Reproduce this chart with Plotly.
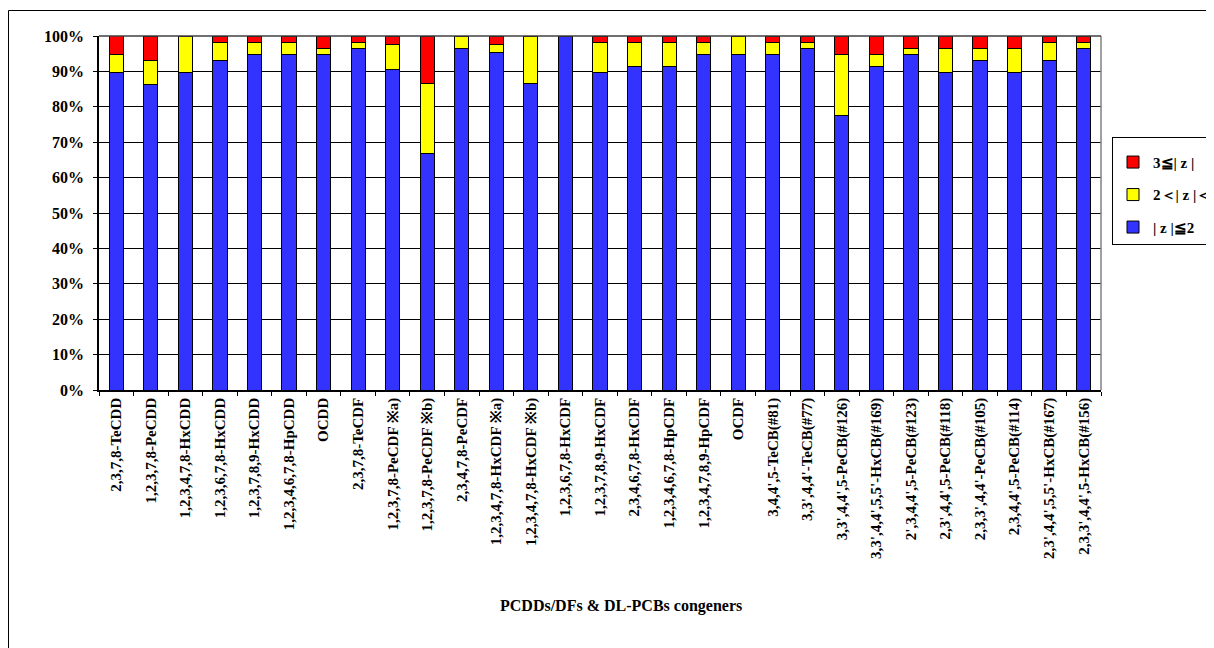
import plotly.graph_objects as go

categories = [
    "2,3,7,8-TeCDD", "1,2,3,7,8-PeCDD", "1,2,3,4,7,8-HxCDD", "1,2,3,6,7,8-HxCDD",
    "1,2,3,7,8,9-HxCDD", "1,2,3,4,6,7,8-HpCDD", "OCDD", "2,3,7,8-TeCDF",
    "1,2,3,7,8-PeCDF ※a)", "1,2,3,7,8-PeCDF ※b)", "2,3,4,7,8-PeCDF",
    "1,2,3,4,7,8-HxCDF ※a)", "1,2,3,4,7,8-HxCDF ※b)", "1,2,3,6,7,8-HxCDF",
    "1,2,3,7,8,9-HxCDF", "2,3,4,6,7,8-HxCDF", "1,2,3,4,6,7,8-HpCDF",
    "1,2,3,4,7,8,9-HpCDF", "OCDF", "3,4,4',5-TeCB(#81)", "3,3',4,4'-TeCB(#77)",
    "3,3',4,4',5-PeCB(#126)", "3,3',4,4',5,5'-HxCB(#169)", "2',3,4,4',5-PeCB(#123)",
    "2,3',4,4',5-PeCB(#118)", "2,3,3',4,4'-PeCB(#105)", "2,3,4,4',5-PeCB(#114)",
    "2,3',4,4',5,5'-HxCB(#167)", "2,3,3',4,4',5-HxCB(#156)",
]

# percentages of |z|<=2, 2<|z|<3, 3<=|z|
z_le2 = [89.7, 86.2, 89.7, 93.1, 94.8, 94.8, 94.8, 96.6, 90.5, 66.7, 96.6,
         95.2, 86.7, 100.0, 89.7, 91.4, 91.4, 94.8, 94.8, 94.8, 96.6,
         77.6, 91.4, 94.8, 89.7, 93.1, 89.7, 93.1, 96.6]
z_2to3 = [5.2, 6.9, 10.3, 5.2, 3.4, 3.4, 1.7, 1.7, 7.1, 20.0, 3.4,
          2.4, 13.3, 0.0, 8.6, 6.9, 6.9, 3.4, 5.2, 3.4, 1.7,
          17.2, 3.4, 1.7, 6.9, 3.4, 6.9, 5.2, 1.7]
z_ge3 = [5.2, 6.9, 0.0, 1.7, 1.7, 1.7, 3.4, 1.7, 2.4, 13.3, 0.0,
         2.4, 0.0, 0.0, 1.7, 1.7, 1.7, 1.7, 0.0, 1.7, 1.7,
         5.2, 5.2, 3.4, 3.4, 3.4, 3.4, 1.7, 1.7]

series_names = ["| z |≦2", "2＜| z |＜3", "3≦| z |"]
series_colors = ["#3333FF", "#FFFF00", "#FF0000"]
series_ranks = [3, 2, 1]
series_values = [z_le2, z_2to3, z_ge3]

FONT = "Liberation Serif, Times New Roman, serif"

fig = go.Figure()
for name, color, rank, vals in zip(series_names, series_colors, series_ranks, series_values):
    fig.add_trace(go.Bar(
        x=categories, y=vals, name=name, legendgroup=name, legendrank=rank,
        marker=dict(color=color, line=dict(color="black", width=1)),
    ))

# page has an 8px body margin; screen coordinates below
OFF = 8
W, H = 1214 - OFF, 648 - OFF
L, R, T, B = 99, 1101, 36, 390

def px(x):
    return (x - L) / (R - L)

def py(y):
    return (B - y) / (B - T)

fig.update_layout(
    width=W, height=H,
    barmode="stack", bargap=0.59,
    paper_bgcolor="white", plot_bgcolor="white",
    margin=dict(l=L - OFF, r=W - (R - OFF), t=T - OFF, b=H - (B - OFF), autoexpand=False),
    font=dict(family=FONT, color="black"),
    showlegend=True,
    legend=dict(
        x=px(1112), y=py(137), xanchor="left", yanchor="top",
        bordercolor="black", borderwidth=1, bgcolor="white",
        font=dict(family=FONT, size=15, color="black", weight="bold"),
        traceorder="grouped", tracegroupgap=10,
        itemwidth=30,
        title=dict(text=" ", font=dict(size=6)),
    ),
    xaxis=dict(
        type="category", tickangle=-90, tickson="boundaries",
        ticks="outside", ticklen=4, tickcolor="black",
        showline=True, linecolor="black", linewidth=1.5,
        showgrid=False,
        tickfont=dict(family=FONT, size=15, color="black", weight="bold"),
    ),
    yaxis=dict(
        range=[0, 100], dtick=10, ticksuffix="%",
        ticks="outside", ticklen=4, tickcolor="black",
        showline=True, linecolor="black", linewidth=1.5,
        showgrid=True, gridcolor="black", gridwidth=1,
        tickfont=dict(family=FONT, size=16, color="black", weight="bold"),
        ticklabelstandoff=6, zeroline=False,
    ),
    shapes=[
        dict(type="line", xref="paper", yref="paper", x0=1, x1=1, y0=0, y1=1,
             line=dict(color="#808080", width=1.5)),
        dict(type="line", xref="paper", yref="paper", x0=0, x1=1, y0=1, y1=1,
             line=dict(color="#404040", width=1.5)),
        dict(type="rect", xref="paper", yref="paper",
             x0=px(8.5), x1=px(1240), y0=py(660), y1=py(10.5),
             line=dict(color="black", width=1), fillcolor="rgba(0,0,0,0)", layer="above"),
    ],
    annotations=[
        dict(text="<b>PCDDs/DFs & DL-PCBs congeners</b>", xref="paper", yref="paper",
             x=px(621), y=py(606), xanchor="center", yanchor="middle", showarrow=False,
             font=dict(family=FONT, size=16, color="black")),
    ],
)

fig.write_html("out.html")
